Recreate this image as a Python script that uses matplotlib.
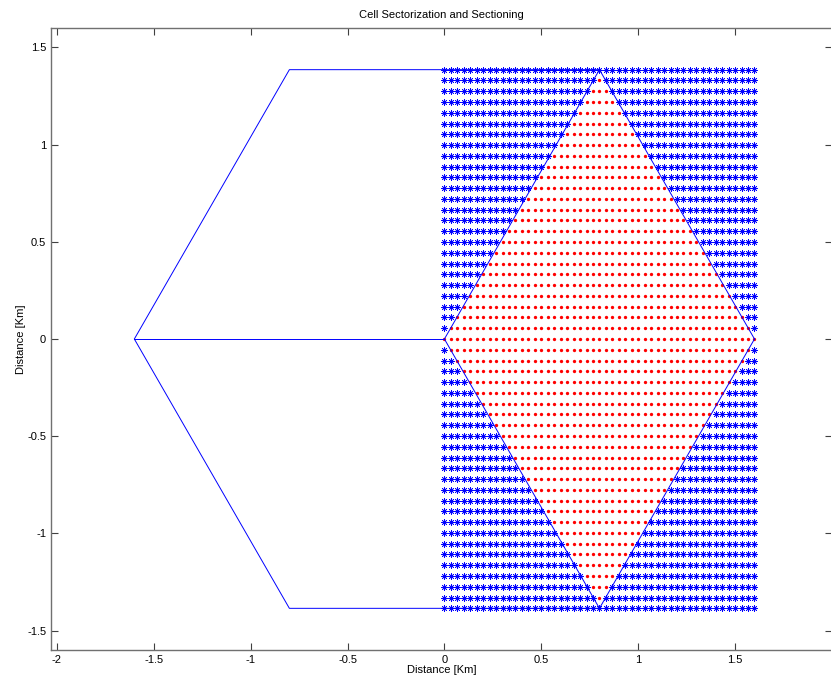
import numpy as np
import matplotlib
matplotlib.use("Agg")
import matplotlib.pyplot as plt

plt.rcParams['font.family'] = ['Liberation Sans', 'DejaVu Sans']
plt.rcParams['axes.unicode_minus'] = False

# cell geometry (km)
R = 1.6
hex_x = [1.6, 0.8, -0.8, -1.6, -0.8, 0.8, 1.6]
hex_y = [0.0, 1.3856, 1.3856, 0.0, -1.3856, -1.3856, 0.0]
spoke_x = [-1.6, 0.8, 0.8]
spoke_y = [0.0, 1.3856, -1.3856]

# sampling grid over the right half
n_cols = 49
n_rows = 51
grid_x = np.linspace(0, 1.6, n_cols)
grid_y = np.linspace(-1.3856, 1.3856, n_rows)

x_ticks = [-2, -1.5, -1, -0.5, 0, 0.5, 1, 1.5, 2]
y_ticks = [-1.5, -1, -0.5, 0, 0.5, 1, 1.5]
x_tick_labels = ['-2', '-1.5', '-1', '-0.5', '0', '0.5', '1', '1.5', '']
y_tick_labels = ['-1.5', '-1', '-0.5', '0', '0.5', '1', '1.5']

gx, gy = np.meshgrid(grid_x, grid_y)
gx = gx.ravel()
gy = gy.ravel()
# points within the rhombus sector (0,0)-(0.8,1.39)-(1.6,0)-(0.8,-1.39)
inside = (np.abs(gy) <= np.sqrt(3) * np.minimum(gx, R - gx) + 1e-9) & (np.abs(gy) < 1.38)

W, H = 831, 681
fig = plt.figure(figsize=(W / 100, H / 100), dpi=100)
ax = fig.add_axes([51 / W, (H - 650) / H, (832 - 51) / W, (650 - 28) / H])

ax.plot(gx[~inside], gy[~inside], linestyle='none', marker=(8, 2, 0),
        color='blue', markersize=4.6, markeredgewidth=0.5)
ax.plot(gx[inside], gy[inside], linestyle='none', marker='o',
        color='red', markersize=2.4, markeredgewidth=0)

ax.plot(hex_x, hex_y, color='blue', linewidth=0.7)
for sx, sy in zip(spoke_x, spoke_y):
    ax.plot([0, sx], [0, sy], color='blue', linewidth=0.7)

ax.set_xlim(-2.03, 2.0)
ax.set_ylim(-1.6, 1.6)
ax.set_xticks(x_ticks)
ax.set_xticklabels(x_tick_labels)
ax.set_yticks(y_ticks)
ax.set_yticklabels(y_tick_labels)
ax.tick_params(direction='in', length=5, width=0.8, labelsize=8,
               top=True, right=True, color='#404040')
for s in ax.spines.values():
    s.set_color('#707070')
    s.set_linewidth(1.0)

ax.set_title('Cell Sectorization and Sectioning', fontsize=8, pad=7)
ax.set_xlabel('Distance [Km]', fontsize=8, labelpad=0)
ax.set_ylabel('Distance [Km]', fontsize=8, labelpad=1)

fig.savefig('out.png', dpi=100)
